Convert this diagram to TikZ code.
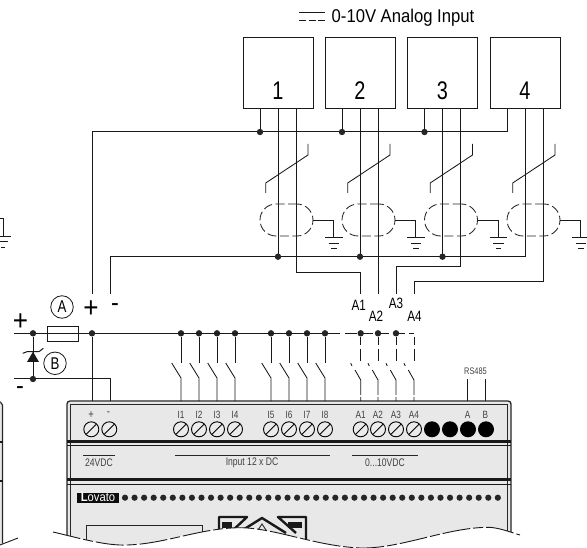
\documentclass[tikz,border=0pt]{standalone}
\usepackage{fontspec}
\setmainfont[FakeStretch=0.78]{Liberation Sans}
\newfontfamily\widerfont[FakeStretch=0.9]{Liberation Sans}
\begin{document}
\begin{tikzpicture}[x=1pt,y=-1pt,
  wire/.style={line width=1pt,black!90},
  thin wire/.style={line width=0.85pt,black!90},
  dotj/.style={circle,fill=black!85,inner sep=0pt,minimum size=6.4pt},
  sensor/.style={draw=black!90,line width=1pt,fill=white,minimum width=70pt,minimum height=71pt,inner sep=0pt},
  shieldring/.style={draw=black!85,line width=0.85pt,rounded corners=16pt,dash pattern=on 9pt off 3.5pt,minimum width=53pt,minimum height=32pt,inner sep=0pt},
  fuse/.style={draw=black!90,line width=0.9pt,fill=white,minimum width=31pt,minimum height=15pt,inner sep=0pt},
  callout/.style={circle,draw=black!90,line width=0.8pt,minimum size=22.5pt,inner sep=0pt,font=\fontsize{17}{17}\selectfont},
  bignum/.style={font=\fontsize{25.5}{25.5}\selectfont,inner sep=0pt},
  alabel/.style={font=\fontsize{15}{15}\selectfont,inner sep=0pt},
  powersign/.style={font=\widerfont\fontsize{29}{29}\selectfont,inner sep=0pt},
  minussign/.style={font=\widerfont\fontsize{26}{26}\selectfont,inner sep=0pt},
  plclabel/.style={font=\fontsize{10.5}{10.5}\selectfont,text=black!75,inner sep=0pt},
  bandlabel/.style={font=\fontsize{11}{11}\selectfont,text=black!75,inner sep=0pt},
  screw/.style={circle,draw=black,line width=0.9pt,fill=black!8,minimum size=15pt,inner sep=0pt,
    path picture={\draw[line width=0.9pt] (path picture bounding box.south west) ++(2.5pt,2.5pt)-- ++(10pt,10pt);}},
  blackpin/.style={circle,fill=black,minimum size=16pt,inner sep=0pt},
  leddot/.style={circle,fill=black!85,minimum size=6.2pt,inner sep=0pt},
  panelline/.style={line width=0.8pt,black!85},
  keyshape/.style={line width=2.4pt,black!90,line join=round}
]
\useasboundingbox (0,0) rectangle (587,548);
\fill[white] (0,0) rectangle (587,548);

% ---------- PLC body ----------
\fill[black!9] (-3,403) rectangle (3,548);
\fill[black!9] (67,402) rectangle (511,548);
\draw[line width=1.3pt,black!85,rounded corners=3pt] (67,548) -- (67,401) -- (511,401) -- (511,548);
\draw[line width=0.9pt,black!85] (70.5,404) -- (70.5,548) (507,404) -- (507,548) (70.5,404) -- (507,404);
\draw[line width=2.6pt,black!90] (67,441.7) -- (511,441.7) (67,479.5) -- (511,479.5);
\draw[line width=0.9pt,black!90] (67,445.7) -- (511,445.7) (67,484) -- (511,484);
% neighbouring unit, left edge of the picture
\draw[line width=1.1pt,black!85,rounded corners=2pt] (0,402) -- (2.5,403) -- (2.5,548);
\draw[line width=2.2pt,black!90] (0,441.7) -- (2.5,441.7) (0,481) -- (2.5,481);

% front panel details
\draw[line width=1pt,black!85] (86,548) -- (86,525) -- (202.3,525) -- (202.3,548);
\draw[keyshape] (219,533) -- (219,517) -- (247,517) -- (230,533);
\draw[keyshape] (238,533) -- (262,518) -- (286,533);
\draw[line width=.9pt,black!85] (256,533) -- (262,524) -- (268,533);
\draw[keyshape] (296,533) -- (278,517) -- (306,517) -- (306,540);
\fill[black!90] (222,522) rectangle (232,528);
\fill[black!90] (288,522) rectangle (302,528);

% cut-away wave
\fill[white] (-3,548) -- (-3,545.5) -- (18,538) .. controls (35,533) and (40,529) .. (53,532)
  .. controls (75,537) and (105,546) .. (127,545)
  .. controls (165,544) and (200,528) .. (240,527.7)
  .. controls (275,528) and (315,546) .. (360,548)
  .. controls (400,549) and (445,528) .. (487,527.3)
  .. controls (497,527) and (510,532) .. (520,535) -- (590,535) -- (590,548) -- cycle;
\draw[line width=0.9pt,black!90,dash pattern=on 28pt off 3pt on 10pt off 3pt]
  (0,545) -- (18,538)
  (53,532) .. controls (75,537) and (105,546) .. (127,545)
  .. controls (165,544) and (200,528) .. (240,527.7)
  .. controls (275,528) and (315,546) .. (360,548)
  .. controls (400,549) and (445,528) .. (487,527.3)
  .. controls (497,527) and (510,532) .. (520,535);

% ---------- title ----------
\coordinate (dcL) at (299,12.3); \coordinate (dcR) at (325,12.3);
\coordinate (dcdL) at (299,20.3); \coordinate (dcdR) at (325,20.3);
\draw[thin wire] (dcL) -- (dcR);
\draw[thin wire,dash pattern=on 7pt off 2.5pt] (dcdL) -- (dcdR);
\node[font=\widerfont\fontsize{18.5}{18.5}\selectfont,anchor=west,inner sep=0pt] (title) at (331.5,17.5) {0-10V Analog Input};

% ---------- sensors ----------
\foreach \n/\x in {1/278,2/360,3/442.5,4/525}{
  \node[sensor] (s\n) at (\x,73.5) {};
  \node[bignum] at (\x,91) {\n};
}

% bus coordinates
\coordinate (busL) at (92,132);
\coordinate (buspL) at (110,256.7);
\coordinate (busC) at (92,294);
\coordinate (busD) at (110,294);
\foreach \n/\x in {1/278,2/360,3/442.5,4/525}{
  \coordinate (a\n) at (\x-18,109.5);
  \coordinate (b\n) at (\x,109.5);
  \coordinate (c\n) at (\x+18,109.5);
}
\draw[wire] (busC) -- (busL) -- (a4|-busL) -- (a4);
\foreach \n in {1,2,3}{
  \draw[wire] (a\n) -- (a\n|-busL);
  \node[dotj] at (a\n|-busL) {};
}
\draw[wire] (busD) -- (buspL) -- (b4|-buspL) -- (b4);
\foreach \n in {1,2,3}{
  \draw[wire] (b\n) -- (b\n|-buspL);
  \node[dotj] at (b\n|-buspL) {};
}

% terminals for A1..A4 wires
\coordinate (tA1) at (360.7,294); \coordinate (tA2) at (378,294);
\coordinate (tA3) at (396,294);   \coordinate (tA4) at (414,294);
\draw[wire] (c1) -- (c1|-0,272.7) -- (tA1|-0,272.7) -- (tA1);
\draw[wire] (c2) -- (tA2);
\draw[wire] (c3) -- (c3|-0,266.7) -- (tA3|-0,266.7) -- (tA3);
\draw[wire] (c4) -- (c4|-0,282) -- (tA4|-0,282) -- (tA4);

% shields + grounds
\foreach \n/\x/\gw in {1/278/0.9,2/360/0.9,3/442.5/1.8,4/525/0.9}{
  \node[shieldring] (r\n) at (\x+8.5,220) {};
  \coordinate (g\n) at (\x+55.7,220);
  \coordinate (gb\n) at (\x+55.7,237.5);
  \draw[thin wire] (r\n.east) -- (g\n) -- (gb\n);
  \draw[black!90,line width=\gw pt] (\x+47,237.5) -- (\x+64.5,237.5);
  \draw[thin wire] (\x+50.5,243) -- (\x+61,243);
  \draw[line width=1.1pt,black!90] (\x+53,248.5) -- (\x+58.5,248.5);
  % twisted-pair slash
  \coordinate (sa\n) at (\x-12.3,193);
  \coordinate (sb\n) at (\x-12.3,183);
  \coordinate (sc\n) at (\x+30,155);
  \coordinate (sd\n) at (\x+30,144);
  \draw[thin wire] (sa\n) -- (sb\n) -- (sc\n) -- (sd\n);
}
% left-over ground at left edge
\coordinate (lg0) at (0,218); \coordinate (lg1) at (3,218); \coordinate (lg2) at (3,236);
\draw[thin wire] (lg0) -- (lg1) -- (lg2);
\draw[thin wire] (0,236) -- (11,236) (0,241.5) -- (8,241.5);
\draw[thin wire] (1,247) -- (5,247);

% A labels
\node[alabel] at (358.7,305) {A1};
\node[alabel] at (376,316) {A2};
\node[alabel] at (396,303.5) {A3};
\node[alabel] at (414.5,316) {A4};

% ---------- power feed ----------
\coordinate (pL) at (14,333.3);
\coordinate (nL) at (14,379);
\node[dotj] (pd1) at (33,333.3) {};
\node[dotj] (pd2) at (33,379) {};
\node[dotj] (pd3) at (92,333.3) {};
\coordinate (nT) at (110,401);
\coordinate (pT) at (92,401);
\draw[wire] (pL) -- (pd1) -- (pd3);
\node[fuse] (fu) at (63.3,333.5) {};
\draw[wire] (fu.west) -- (fu.east);
\draw[wire] (pd3) -- (pT);
\draw[wire] (nL) -- (pd2) -- (110,379) -- (nT);
\draw[wire] (pd1) -- (pd2);
% zener
\fill[black!90] (33,351.7) -- (27,362) -- (39,362) -- cycle;
\draw[line width=1pt,black!90] (22.7,353.3) -- (27,351.7) -- (39,351.7) -- (43.3,348.3);

\node[callout] (ca) at (62,307) {A};
\node[callout] (cb) at (55,363.3) {B};
\node[powersign] at (91,309) {+};
\node[minussign] at (115,308) {-};
\node[powersign] at (20.5,322) {+};
\node[minussign] at (20,391) {-};

% ---------- digital inputs ----------
\foreach \n/\x in {1/181,2/199,3/217,4/235,5/271,6/289,7/307,8/325}{
  \node[dotj] (di\n) at (\x,333.3) {};
  \coordinate (du\n) at (\x,363);
  \coordinate (dv\n) at (\x-9.3,363);
  \coordinate (dw\n) at (\x,378);
  \coordinate (dx\n) at (\x,401);
  \draw[wire] (di\n) -- (du\n);
  \draw[thin wire] (dv\n) -- (dw\n) -- (dx\n);
  \node[plclabel] at (\x,415) {I\n};
  \node[screw] at (\x,429.3) {};
}
\draw[wire] (pd3) -- (di8);
\draw[wire] (di8) -- (340,333.3);

% ---------- analog inputs ----------
\draw[wire,dash pattern=on 12pt off 4pt] (345,333.3) -- (414,333.3);
\foreach \n/\x in {1/360.7,2/378,3/396,4/414}{
  \ifnum\n<4 \node[dotj] (ai\n) at (\x,333.3) {};\fi
  \draw[wire] (\x,337) -- (\x,345) (\x,349) -- (\x,361);
  \draw[thin wire] (\x-10,363.3) -- (\x-8.7,366);
  \draw[thin wire] (\x-5.7,370) -- (\x,380) -- (\x,395) (\x,397) -- (\x,401);
  \node[plclabel] at (\x,415) {A\n};
  \node[screw] at (\x,429.3) {};
}
% ---------- RS485 ----------
\coordinate (rsA) at (467.7,401); \coordinate (rsB) at (485.3,401);
\coordinate (rsAt) at (467.7,379); \coordinate (rsBt) at (485.3,379);
\draw[thin wire] (rsAt) -- (rsA) (rsBt) -- (rsB);
\node[font=\fontsize{9.5}{9.5}\selectfont,text=black!75,inner sep=0pt] at (475.5,371.5) {RS485};
\node[plclabel] at (467.7,415) {A};
\node[plclabel] at (485.3,415) {B};
\foreach \x in {432,450,468,486}{ \node[blackpin] at (\x,429.3) {}; }

% power terminals
\node[plclabel,font=\fontsize{12}{12}\selectfont] at (91,415) {+};
\node[plclabel,font=\fontsize{12}{12}\selectfont] at (108.5,414) {-};
\node[screw] at (91.3,429.3) {};
\node[screw] at (109.3,429.3) {};

% band labels
\draw[panelline] (83,455) -- (115,455);
\node[bandlabel] at (99,462.5) {24VDC};
\draw[panelline] (175,455) -- (330,455);
\node[bandlabel] at (252,462.5) {Input 12 x DC};
\draw[panelline] (351.7,455) -- (418,455);
\node[bandlabel] at (385,462.5) {0...10VDC};

% logo + LED row
\fill[black!95] (77.3,492.7) rectangle (118.7,502.7);
\node[text=white,font=\widerfont\fontsize{12.5}{12.5}\selectfont,inner sep=0pt] at (98,497.5) {\textbf{L}ovato};
\foreach \i in {0,...,39}{ \node[leddot] at (125+\i*9.56,497.7) {}; }
\end{tikzpicture}
\end{document}
